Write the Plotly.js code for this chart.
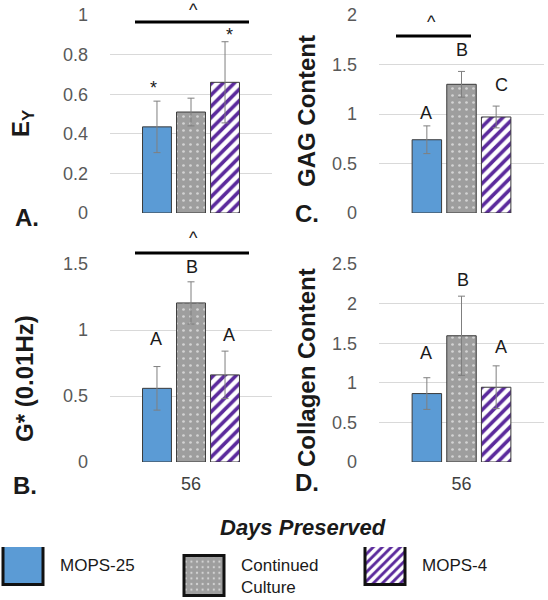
<!DOCTYPE html>
<html>
<head>
<meta charset="utf-8">
<script src="https://cdn.plot.ly/plotly-3.0.1.min.js"></script>
<style>html,body{margin:0;padding:0;background:#fff;}#chart{width:548px;height:600px;}</style>
</head>
<body>
<div id="chart"></div>
<script>
// ---- data ----
const days = ['56'];
const groups = ['MOPS-25', 'Continued<br>Culture', 'MOPS-4'];
const eyMean = [0.435, 0.51, 0.66];
const eyErr = [0.13, 0.07, 0.205];
const gagMean = [0.74, 1.30, 0.97];
const gagErr = [0.14, 0.13, 0.11];
const gMean = [0.558, 1.205, 0.66];
const gErr = [0.165, 0.16, 0.18];
const colMean = [0.864, 1.594, 0.944];
const colErr = [0.20, 0.50, 0.27];
const eyLabels = ['*', '', '*'];
const gagLabels = ['A', 'B', 'C'];
const gLabels = ['A', 'B', 'A'];
const colLabels = ['A', 'B', 'A'];

// ---- styles ----
const W = 548, H = 600;
const px = x => x / W;
const py = y => 1 - y / H;
const FONT = 'Liberation Sans, Arial, sans-serif';
const markers = [
  {color: '#5b9bd5', line: {color: '#3a3a3a', width: 1}},
  {color: '#9e9e9e', line: {color: '#3a3a3a', width: 1},
   pattern: {shape: '.', fgcolor: '#ffffff', bgcolor: '#9e9e9e', fillmode: 'overlay', fgopacity: 0.55, size: 7, solidity: 0.12}},
  {color: '#ffffff', line: {color: '#3a3a3a', width: 1},
   pattern: {shape: '/', fgcolor: '#5b2a9c', bgcolor: '#ffffff', fillmode: 'overlay', fgopacity: 1, size: 8, solidity: 0.45}}
];

const panels = [
  {mean: eyMean, err: eyErr, xa: 'x', ya: 'y'},
  {mean: gagMean, err: gagErr, xa: 'x2', ya: 'y2'},
  {mean: gMean, err: gErr, xa: 'x3', ya: 'y3'},
  {mean: colMean, err: colErr, xa: 'x4', ya: 'y4'}
];

const traces = [];
panels.forEach((p, pi) => {
  groups.forEach((g, gi) => {
    traces.push({
      type: 'bar', name: g, x: days, y: [p.mean[gi]],
      xaxis: p.xa, yaxis: p.ya,
      legendgroup: 'g' + gi, showlegend: pi === 0,
      marker: markers[gi],
      error_y: {type: 'data', array: [p.err[gi]], color: '#7f7f7f', thickness: 1, width: 3.5},
      hoverinfo: 'skip'
    });
  });
});

function yax(domain, range, dtick) {
  return {domain: domain, range: range, dtick: dtick, showgrid: true, gridcolor: '#d9d9d9', gridwidth: 1,
    zeroline: false, showline: false, ticks: '', ticklabelstandoff: 21,
    tickfont: {family: FONT, size: 18, color: '#595959'}, fixedrange: true};
}
function xax(domain, anchor, showLabels) {
  return {domain: domain, anchor: anchor, type: 'category', range: [-0.5, 0.5], showgrid: false,
    zeroline: false, showline: false, ticks: '', showticklabels: showLabels, ticklabelstandoff: 9,
    tickfont: {family: FONT, size: 18, color: '#404040'}, fixedrange: true};
}
const xL = [px(110), px(272)], xR = [px(379), px(544)];
const yT = [py(213), py(15)], yB = [py(462), py(264)];

const annotations = [];
function txt(text, x, y, size, opts) {
  annotations.push(Object.assign({text: text, x: px(x), y: py(y), xref: 'paper', yref: 'paper',
    showarrow: false, xanchor: 'center', yanchor: 'middle',
    font: {family: FONT, size: size, color: '#1a1a1a'}}, opts || {}));
}
// axis titles
txt('<b>E<sub>Y</sub></b>', 22, 124, 24, {textangle: -90});
txt('<b>GAG Content</b>', 306, 111, 24, {textangle: -90});
txt('<b>G* (0.01Hz)</b>', 24, 379, 24, {textangle: -90});
txt('<b>Collagen Content</b>', 306, 368, 24, {textangle: -90});
// panel letters
txt('<b>A.</b>', 27, 217, 24);
txt('<b>C.</b>', 307, 213, 24);
txt('<b>B.</b>', 25, 485, 24);
txt('<b>D.</b>', 307, 482, 24);
// common x title
txt('<b><i>Days Preserved</i></b>', 303, 527, 22);
// significance markers
txt('^', 193, 10, 18);
txt('^', 431, 22, 18);
txt('^', 193, 238, 18);
const lblPosA = [[153, 88], null, [229, 35]];
const lblPosC = [[426, 113], [462, 50], [501, 85]];
const lblPosB = [[156, 339], [192, 267], [229, 335]];
const lblPosD = [[426, 353], [463, 280], [501, 347]];
[[eyLabels, lblPosA, 18], [gagLabels, lblPosC, 18], [gLabels, lblPosB, 18], [colLabels, lblPosD, 18]].forEach(([labs, pos, sz]) => {
  labs.forEach((l, i) => { if (l && pos[i]) txt(l, pos[i][0], pos[i][1], sz); });
});

const shapes = [
  {type: 'line', xref: 'paper', yref: 'paper', x0: px(135), x1: px(249), y0: py(22), y1: py(22), line: {color: '#000', width: 3}},
  {type: 'line', xref: 'paper', yref: 'paper', x0: px(396), x1: px(471), y0: py(36), y1: py(36), line: {color: '#000', width: 3}},
  {type: 'line', xref: 'paper', yref: 'paper', x0: px(135), x1: px(249), y0: py(253), y1: py(253), line: {color: '#000', width: 3}}
];

const layout = {
  width: W, height: H, margin: {l: 0, r: 0, t: 0, b: 0},
  paper_bgcolor: '#ffffff', plot_bgcolor: '#ffffff',
  barmode: 'group', bargap: 0.37, bargroupgap: 0.15,
  font: {family: FONT, color: '#1a1a1a'},
  xaxis: xax(xL, 'y', false), yaxis: yax(yT, [0, 1], 0.2),
  xaxis2: xax(xR, 'y2', false), yaxis2: Object.assign(yax(yT, [0, 2], 0.5), {anchor: 'x2'}),
  xaxis3: xax(xL, 'y3', true), yaxis3: Object.assign(yax(yB, [0, 1.5], 0.5), {anchor: 'x3'}),
  xaxis4: xax(xR, 'y4', true), yaxis4: Object.assign(yax(yB, [0, 2.5], 0.5), {anchor: 'x4'}),
  showlegend: true,
  legend: {orientation: 'h', x: 0, xanchor: 'left', y: 0, yanchor: 'bottom',
    itemwidth: 50, entrywidth: 116, entrywidthmode: 'pixels', traceorder: 'normal',
    font: {family: FONT, size: 17, color: '#1a1a1a'}, bgcolor: 'rgba(0,0,0,0)', valign: 'middle',
    itemclick: false, itemdoubleclick: false},
  annotations: annotations, shapes: shapes
};

Plotly.newPlot('chart', traces, layout, {displayModeBar: false, staticPlot: true}).then(gd => {
  gd.querySelectorAll('.legend .legendpoints path').forEach(p => {
    p.setAttribute('d', 'M13,20H-27V-20H13Z');
    p.style.strokeWidth = '3px';
    p.style.stroke = '#111';
  });
  const lg = gd.querySelector('g.legend');
  if (lg) {
    const t = lg.getAttribute('transform') || '';
    const m = t.match(/translate\(\s*([-\d.e]+)[ ,]+([-\d.e]+)\s*\)/);
    if (m) lg.setAttribute('transform', 'translate(' + m[1] + ',' + (parseFloat(m[2]) + 5) + ')');
  }
});
</script>
</body>
</html>
